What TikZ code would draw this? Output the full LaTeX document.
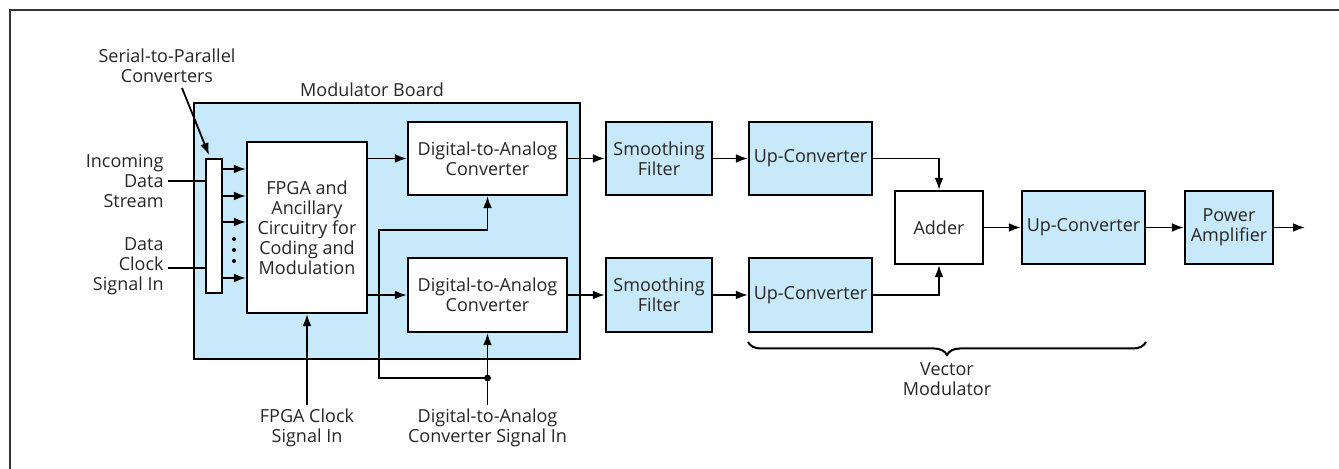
\documentclass[tikz,border=0pt]{standalone}
\usepackage{fontspec}
\setmainfont{Open Sans}
\usetikzlibrary{arrows.meta,decorations.pathreplacing,calc}
\definecolor{lblue}{RGB}{199,233,249}
\tikzset{
  txt/.style={font=\fontsize{9}{10}\selectfont, text=black!85},
  blk/.style={draw, line width=1.1pt, align=center, inner sep=0pt, txt},
  bl/.style={blk, fill=lblue},
  wh/.style={blk, fill=white},
  conn/.style={line width=0.9pt},
  arr/.style={conn, -{Latex[length=6pt,width=4.4pt]}},
  lbl/.style={align=center, inner sep=0pt, txt}
}
\begin{document}
\begin{tikzpicture}[x=0.5pt,y=-0.5pt]
\useasboundingbox (0,0) rectangle (1339,469);
% frame
\coordinate (f1) at (10,469);
\coordinate (f2) at (10,10);
\coordinate (f3) at (1339,10);
\draw[line width=0.8pt, black!80] (f1) -- (f2) -- (f3);

% board
\node[bl, minimum width=193pt, minimum height=128pt] (board) at (387,231) {};
\node[lbl] (boardlbl) at (372,90) {Modulator Board};

% serial-to-parallel bar
\node[wh, minimum width=8pt, minimum height=67pt] (sp) at (214,226) {};
\node[lbl] (splbl) at (167,66) {Serial-to-Parallel\\Converters};
\coordinate (spa) at (182,88);
\coordinate (spb) at (209,155);
\draw[arr] (spa) -- (spb);

% FPGA
\node[wh, minimum width=60pt, minimum height=85.5pt] (fpga) at (307,227.5)
  {FPGA and\\Ancillary\\Circuitry for\\Coding and\\Modulation};
\foreach \yy in {169,196,222,278}{
  \draw[arr] (sp.east |- 0,\yy) -- (fpga.west |- 0,\yy);
}
\foreach \yy in {239,250,261}{
  \fill (234,\yy) circle (1pt);
}

% inputs left
\node[lbl, align=right, anchor=east] (inds) at (164,181) {Incoming\\Data\\Stream};
\node[lbl, align=right, anchor=east] (dclk) at (164,266) {Data\\Clock\\Signal In};
\draw[conn] (inds.east |- 0,181) ++(4,0) -- (sp.west |- 0,181);
\draw[conn] (dclk.east |- 0,268) ++(4,0) -- (sp.west |- 0,268);

% DACs
\node[wh, minimum width=79.5pt, minimum height=36.5pt] (dac1) at (487.5,158.5) {Digital-to-Analog\\Converter};
\node[wh, minimum width=79.5pt, minimum height=37pt] (dac2) at (487.5,295) {Digital-to-Analog\\Converter};
\draw[arr] (fpga.east |- dac1) -- (dac1.west);
\draw[arr] (fpga.east |- dac2) -- (dac2.west);

% FPGA clock
\node[lbl] (fclk) at (307,428) {FPGA Clock\\Signal In};
\coordinate (fclka) at (307,405);
\draw[arr] (fclka) -- (fpga.south);

% DAC signal in
\node[lbl] (dsig) at (487.5,428) {Digital-to-Analog\\Converter Signal In};
\coordinate (dsa) at (487.5,405);
\coordinate (dj) at (487.5,378);
\coordinate (dl) at (379,378);
\coordinate (du) at (379,230);
\draw[arr] (dsa) -- (dac2.south);
\draw[arr] (dj) -- (dl) -- (du) -- (dac1.south |- du) -- (dac1.south);
\fill (dj) circle (1.7pt);

% smoothing filters
\node[bl, minimum width=53pt, minimum height=36.5pt] (sf1) at (659,158.5) {Smoothing\\Filter};
\node[bl, minimum width=53pt, minimum height=37pt] (sf2) at (659,295) {Smoothing\\Filter};
\draw[arr] (dac1.east) -- (sf1.west);
\draw[arr] (dac2.east) -- (sf2.west);

% up-converters
\node[bl, minimum width=61.5pt, minimum height=36.5pt] (uc1) at (810.5,158.5) {Up-Converter};
\node[bl, minimum width=61.5pt, minimum height=37pt] (uc2) at (810.5,295) {Up-Converter};
\draw[arr] (sf1.east) -- (uc1.west);
\draw[arr] (sf2.east) -- (uc2.west);

% adder
\node[wh, minimum width=44pt, minimum height=36.5pt] (adder) at (939,227.5) {Adder};
\draw[arr] (uc1.east) -| (adder.north);
\draw[arr] (uc2.east) -| (adder.south);

% final chain
\node[bl, minimum width=61.5pt, minimum height=36.5pt] (uc3) at (1083.5,227.5) {Up-Converter};
\node[bl, minimum width=44pt, minimum height=36.5pt] (pa) at (1229,227.5) {Power\\Amplifier};
\coordinate (out) at (1305,227.5);
\draw[arr] (adder.east) -- (uc3.west);
\draw[arr] (uc3.east) -- (pa.west);
\draw[arr] (pa.east) -- (out);

% brace
\coordinate (bra) at (748,342);
\coordinate (brb) at (1146,342);
\draw[decorate, decoration={brace, mirror, amplitude=6.5pt}, line width=1pt] (bra) -- (brb);
\node[lbl] (vm) at (947,379) {Vector\\Modulator};
\end{tikzpicture}
\end{document}
